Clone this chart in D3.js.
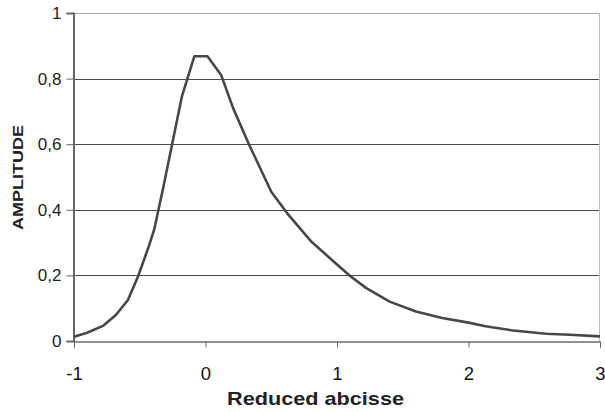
<!DOCTYPE html>
<html><head><meta charset="utf-8">
<script src="https://cdn.jsdelivr.net/npm/d3@7"></script>
<style>body{margin:0;background:#fff}svg{display:block}text{font-family:Arial,"Liberation Sans",sans-serif}</style>
</head><body>
<script>
const xValues = [-1,-0.9,-0.78,-0.68,-0.59,-0.51,-0.43,-0.39,-0.32,-0.18,-0.085,0.015,0.12,0.21,0.33,0.5,0.62,0.8,1.0,1.1,1.22,1.4,1.6,1.8,2.0,2.13,2.34,2.59,2.77,3.0];
const amplitude = [0.013,0.025,0.046,0.08,0.125,0.2,0.29,0.34,0.47,0.745,0.868,0.868,0.81,0.71,0.6,0.455,0.39,0.305,0.233,0.198,0.162,0.12,0.09,0.07,0.056,0.045,0.032,0.022,0.019,0.014];
const xTicks = [-1,0,1,2,3];
const yTicks = [0,0.2,0.4,0.6,0.8,1];
const xTitle = "Reduced abcisse";
const yTitle = "AMPLITUDE";

const W = 605, H = 412;
const L = 74, R = 600, T = 13, B = 341;
const svg = d3.select("body").append("svg").attr("width", W).attr("height", H);
const x = d3.scaleLinear().domain([-1, 3]).range([L, R]);
const y = d3.scaleLinear().domain([0, 1]).range([B, T]);

// gridlines
svg.append("g").selectAll("line").data(yTicks.filter(d => d > 0 && d < 1)).join("line")
  .attr("x1", L).attr("x2", R).attr("y1", d => Math.round(y(d)) + 0.5).attr("y2", d => Math.round(y(d)) + 0.5)
  .attr("stroke", "#4a4a4a").attr("stroke-width", 1);
// top & right border
svg.append("line").attr("x1", L).attr("x2", R).attr("y1", y(1) + 0.5).attr("y2", y(1) + 0.5).attr("stroke", "#a8a8a8");
svg.append("line").attr("x1", R - 0.5).attr("x2", R - 0.5).attr("y1", T).attr("y2", B).attr("stroke", "#bdbdbd");

// y axis
const yAxis = d3.axisLeft(y).tickValues(yTicks).tickSize(7).tickPadding(5)
  .tickFormat(d => d3.format("~g")(d).replace(".", ","));
const gy = svg.append("g").attr("transform", `translate(${L - 0.5},0)`).call(yAxis);
gy.select(".domain").attr("stroke", "#666").attr("stroke-width", 2);
gy.selectAll(".tick line").attr("stroke", "#666");
gy.selectAll(".tick text").attr("font-size", 17).attr("fill", "#222");

// x axis
const xAxis = d3.axisBottom(x).tickValues(xTicks).tickSize(6).tickPadding(19).tickFormat(d => String(d));
const gx = svg.append("g").attr("transform", `translate(0,${B + 0.5})`).call(xAxis);
gx.select(".domain").attr("stroke", "#222").attr("stroke-width", 1);
gx.selectAll(".tick line").attr("stroke", "#666");
gx.selectAll(".tick text").attr("font-size", 18.5).attr("fill", "#111");

// line
const data = xValues.map((v, i) => [v, amplitude[i]]);
svg.append("path").datum(data)
  .attr("fill", "none").attr("stroke", "#474747").attr("stroke-width", 2.6).attr("stroke-linejoin", "round")
  .attr("d", d3.line().x(d => x(d[0])).y(d => y(d[1])));

// titles
svg.append("text").attr("x", 227).attr("y", 405)
  .attr("font-size", 19).attr("font-weight", "bold").attr("fill", "#222")
  .attr("textLength", 177).attr("lengthAdjust", "spacingAndGlyphs").text(xTitle);
svg.append("text").attr("transform", "translate(23,230) rotate(-90)")
  .attr("font-size", 15).attr("font-weight", "bold").attr("fill", "#222")
  .attr("textLength", 105).attr("lengthAdjust", "spacingAndGlyphs").text(yTitle);
</script>
</body></html>
